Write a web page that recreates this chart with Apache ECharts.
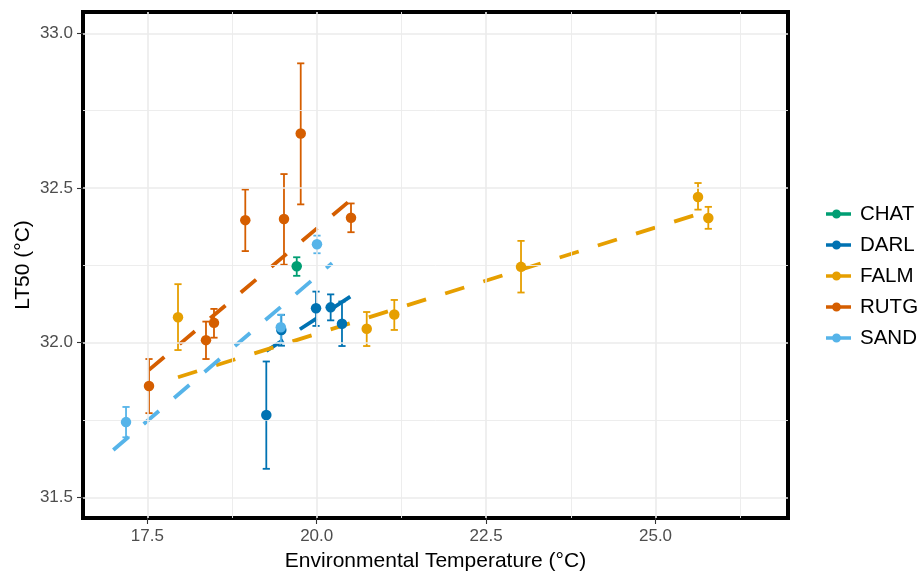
<!DOCTYPE html>
<html>
<head>
<meta charset="utf-8">
<script src="https://cdn.jsdelivr.net/npm/echarts@6/dist/echarts.min.js"></script>
<style>
  html, body { margin: 0; padding: 0; background: #ffffff; }
  #chart { width: 922px; height: 572px; }
</style>
</head>
<body>
<div id="chart"></div>
<script>
// Sites shown in the legend
const sites = ['CHAT', 'DARL', 'FALM', 'RUTG', 'SAND'];

// Mean LT50 per sampling event, with lower / upper error bounds
const chatTemp = [19.705];
const chatLT50 = [32.247];
const chatLow  = [32.216];
const chatHigh = [32.276];

const darlTemp = [19.256, 19.478, 19.990, 20.206, 20.373];
const darlLT50 = [31.766, 32.041, 32.111, 32.114, 32.061];
const darlLow  = [31.592, 31.990, 32.054, 32.072, 31.989];
const darlHigh = [31.939, 32.090, 32.165, 32.156, 32.133];

const falmTemp = [17.953, 20.738, 21.145, 23.015, 25.627, 25.779];
const falmLT50 = [32.082, 32.045, 32.091, 32.245, 32.471, 32.403];
const falmLow  = [31.976, 31.989, 32.041, 32.162, 32.430, 32.368];
const falmHigh = [32.189, 32.099, 32.138, 32.329, 32.516, 32.439];

const rutgTemp = [17.525, 18.366, 18.484, 18.946, 19.517, 19.764, 20.506];
const rutgLT50 = [31.860, 32.008, 32.064, 32.396, 32.400, 32.676, 32.404];
const rutgLow  = [31.772, 31.947, 32.016, 32.296, 32.252, 32.447, 32.357];
const rutgHigh = [31.947, 32.068, 32.109, 32.495, 32.545, 32.903, 32.450];

const sandTemp = [17.186, 19.470, 20.004];
const sandLT50 = [31.743, 32.050, 32.318];
const sandLow  = [31.694, 32.000, 32.289];
const sandHigh = [31.792, 32.090, 32.346];

// Linear trend per site: end points (temperature, LT50)
const darlFitTemp = [19.256, 20.498];
const darlFitLT50 = [31.973, 32.149];
const falmFitTemp = [17.953, 25.779];
const falmFitLT50 = [31.888, 32.426];
const rutgFitTemp = [17.525, 20.506];
const rutgFitLT50 = [31.912, 32.462];
const sandFitTemp = [16.998, 20.226];
const sandFitLT50 = [31.653, 32.257];

// Axis ticks and grid positions
const xTicks = [17.5, 20.0, 22.5, 25.0];
const xMinor = [18.75, 21.25, 23.75, 26.25];
const yTicks = [31.5, 32.0, 32.5, 33.0];
const yMinor = [31.75, 32.25, 32.75];
const xRange = [16.551, 26.955];
const yRange = [31.433, 33.069];

const palette = {
  CHAT: '#009E73', DARL: '#0072B2', FALM: '#E69F00', RUTG: '#D55E00', SAND: '#56B4E9'
};
const FONT = "'Liberation Sans', Arial, Helvetica, sans-serif";

const siteData = {
  CHAT: { temp: chatTemp, lt50: chatLT50, low: chatLow, high: chatHigh, fitT: null, fitY: null },
  DARL: { temp: darlTemp, lt50: darlLT50, low: darlLow, high: darlHigh, fitT: darlFitTemp, fitY: darlFitLT50 },
  FALM: { temp: falmTemp, lt50: falmLT50, low: falmLow, high: falmHigh, fitT: falmFitTemp, fitY: falmFitLT50 },
  RUTG: { temp: rutgTemp, lt50: rutgLT50, low: rutgLow, high: rutgHigh, fitT: rutgFitTemp, fitY: rutgFitLT50 },
  SAND: { temp: sandTemp, lt50: sandLT50, low: sandLow, high: sandHigh, fitT: sandFitTemp, fitY: sandFitLT50 }
};

function zip(a, b) { return a.map((v, i) => [v, b[i]]); }
function zip3(a, b, c) { return a.map((v, i) => [v, b[i], c[i]]); }

function errorBarRenderer(color) {
  return function (params, api) {
    const x = api.value(0);
    const lo = api.coord([x, api.value(1)]);
    const hi = api.coord([x, api.value(2)]);
    const hw = 3.6;
    const style = { stroke: color, lineWidth: 1.8, fill: null };
    return {
      type: 'group',
      children: [
        { type: 'line', shape: { x1: lo[0], y1: lo[1], x2: hi[0], y2: hi[1] }, style: style },
        { type: 'line', shape: { x1: lo[0] - hw, y1: lo[1], x2: lo[0] + hw, y2: lo[1] }, style: style },
        { type: 'line', shape: { x1: hi[0] - hw, y1: hi[1], x2: hi[0] + hw, y2: hi[1] }, style: style }
      ]
    };
  };
}

const series = [];

// Background grid lines (major and minor) drawn at axis values
const gridLine = (w) => ({ color: '#EBEBEB', width: w, type: 'solid' });
series.push({
  type: 'line', data: [], silent: true, z: 0,
  markLine: {
    silent: true, symbol: ['none', 'none'], label: { show: false }, animation: false,
    data: [
      ...xMinor.map(v => ({ xAxis: v, lineStyle: gridLine(0.9) })),
      ...yMinor.map(v => ({ yAxis: v, lineStyle: gridLine(0.9) })),
      ...xTicks.map(v => ({ xAxis: v, lineStyle: gridLine(1.6) })),
      ...yTicks.map(v => ({ yAxis: v, lineStyle: gridLine(1.6) }))
    ]
  }
});

// Points first so the legend picks up their colour
sites.forEach(s => {
  const d = siteData[s];
  series.push({
    name: s, type: 'scatter', z: 5,
    data: zip(d.temp, d.lt50),
    symbol: 'circle', symbolSize: 10.5,
    itemStyle: { color: palette[s], opacity: 1 }
  });
});

sites.forEach(s => {
  const d = siteData[s];
  if (d.fitT) {
    series.push({
      name: s, type: 'line', z: 2,
      data: zip(d.fitT, d.fitY),
      showSymbol: false, symbol: 'none',
      itemStyle: { color: palette[s] },
      lineStyle: { color: palette[s], width: 3.8, type: [20, 20], cap: 'butt' }
    });
  }
});

sites.forEach(s => {
  const d = siteData[s];
  series.push({
    name: s, type: 'custom', z: 3,
    data: zip3(d.temp, d.low, d.high),
    encode: { x: 0, y: [1, 2] },
    itemStyle: { color: palette[s] },
    renderItem: errorBarRenderer(palette[s])
  });
});

// Legend key: short line with a dot on it
const keyIcon = 'path://M0,2.8 L25,2.8 L25,6.2 L0,6.2 Z M6,4.5 A4.5,4.5 0 1 1 15,4.5 A4.5,4.5 0 1 1 6,4.5 Z';

const option = {
  animation: false,
  backgroundColor: '#ffffff',
  textStyle: { fontFamily: FONT },
  grid: {
    left: 83, right: 134, top: 12, bottom: 54,
    outerBoundsMode: 'none', containLabel: false,
    show: true, borderColor: '#000000', borderWidth: 4, backgroundColor: 'transparent'
  },
  legend: {
    orient: 'vertical', left: 821, top: 198,
    itemWidth: 25, itemHeight: 9, itemGap: 9,
    selectedMode: false,
    data: sites.map(s => ({ name: s, icon: keyIcon })),
    textStyle: { fontFamily: FONT, fontSize: 20.5, color: '#000000', lineHeight: 22, padding: [0, 0, 0, 4] }
  },
  xAxis: {
    type: 'value', min: xRange[0], max: xRange[1],
    name: 'Environmental Temperature (°C)', nameLocation: 'middle', nameGap: 33,
    nameMoveOverlap: false,
    nameTextStyle: { fontFamily: FONT, fontSize: 21, color: '#000000' },
    axisLine: { show: false },
    splitLine: { show: false },
    axisTick: { show: true, customValues: xTicks, length: 6, lineStyle: { color: '#333333', width: 1.1 } },
    axisLabel: {
      customValues: xTicks, margin: 10, fontFamily: FONT, fontSize: 17, color: '#4D4D4D',
      formatter: v => Number(v).toFixed(1)
    }
  },
  yAxis: {
    type: 'value', min: yRange[0], max: yRange[1],
    name: 'LT50 (°C)', nameLocation: 'middle', nameRotate: 90, nameGap: 49,
    nameMoveOverlap: false,
    nameTextStyle: { fontFamily: FONT, fontSize: 21, color: '#000000' },
    axisLine: { show: false },
    splitLine: { show: false },
    axisTick: { show: true, customValues: yTicks, length: 6, lineStyle: { color: '#333333', width: 1.1 } },
    axisLabel: {
      customValues: yTicks, margin: 10, fontFamily: FONT, fontSize: 17, color: '#4D4D4D',
      formatter: v => Number(v).toFixed(1)
    }
  },
  series: series
};

const chart = echarts.init(document.getElementById('chart'), null, { renderer: 'canvas' });
chart.setOption(option);
</script>
</body>
</html>
